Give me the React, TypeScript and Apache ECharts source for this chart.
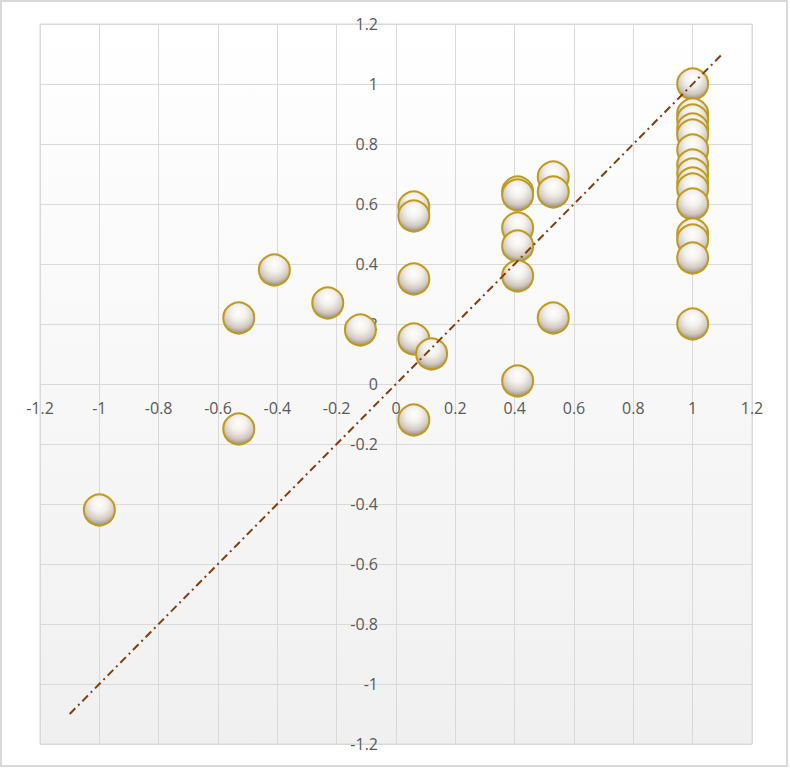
import React, { useEffect, useRef } from "react";
import * as echarts from "echarts";

const xValues = [
  -1.0, -0.53, -0.53, -0.41, -0.23, -0.12,
  0.06, 0.06, 0.06, 0.06, 0.06, 0.12,
  0.41, 0.41, 0.41, 0.41, 0.41, 0.41,
  0.53, 0.53, 0.53,
  1, 1, 1, 1, 1, 1, 1, 1, 1, 1, 1, 1, 1, 1, 1,
];
const yValues = [
  -0.42, 0.22, -0.15, 0.38, 0.27, 0.18,
  0.59, 0.56, 0.35, 0.15, -0.12, 0.1,
  0.64, 0.63, 0.52, 0.46, 0.36, 0.01,
  0.69, 0.64, 0.22,
  1.0, 0.9, 0.88, 0.85, 0.83, 0.78, 0.73, 0.7, 0.67, 0.65, 0.6, 0.5, 0.48, 0.42, 0.2,
];
const trendX = [-1.1, 1.1];
const trendY = [-1.1, 1.1];

export default function App() {
  const ref = useRef<HTMLDivElement>(null);
  useEffect(() => {
    if (!ref.current) return;
    const chart = echarts.init(ref.current, null, { renderer: "svg" });
    const points = xValues.map((x, i) => [x, yValues[i]]);
    const trend = trendX.map((x, i) => [x, trendY[i]]);
    const labelStyle = {
      color: "#595959",
      fontFamily: "Open Sans",
      fontSize: 16,
    };
    const fmt = (v: number) => String(Math.round(v * 10) / 10);
    chart.setOption({
      animation: false,
      backgroundColor: "#ffffff",
      graphic: [
        {
          type: "rect",
          shape: { x: 1, y: 1, width: 786, height: 765 },
          style: { fill: "none", stroke: "#d9d9d9", lineWidth: 2 },
          z: 100,
        },
      ],
      grid: {
        left: 40,
        right: 38,
        top: 24,
        bottom: 24,
        containLabel: false,
        outerBoundsMode: "none",
        show: true,
        borderColor: "#d9d9d9",
        borderWidth: 1,
        backgroundColor: {
          type: "linear",
          x: 0,
          y: 0,
          x2: 0,
          y2: 1,
          colorStops: [
            { offset: 0, color: "#ffffff" },
            { offset: 1, color: "#f0f0f0" },
          ],
        },
      },
      xAxis: {
        type: "value",
        min: -1.2,
        max: 1.2,
        interval: 0.2,
        position: "bottom",
        offset: -360,
        axisLine: { show: true, onZero: false, lineStyle: { color: "#d9d9d9", width: 1 } },
        axisTick: { show: false },
        splitLine: { lineStyle: { color: "#d9d9d9", width: 1 } },
        axisLabel: { ...labelStyle, margin: 16, formatter: fmt },
      },
      yAxis: {
        type: "value",
        min: -1.2,
        max: 1.2,
        interval: 0.2,
        position: "left",
        offset: -356,
        axisLine: { show: true, onZero: false, lineStyle: { color: "#d9d9d9", width: 1 } },
        axisTick: { show: false },
        splitLine: { lineStyle: { color: "#d9d9d9", width: 1 } },
        axisLabel: { ...labelStyle, margin: 18, formatter: fmt },
      },
      series: [
        {
          type: "scatter",
          data: points,
          symbol: "circle",
          symbolSize: 31,
          z: 3,
          itemStyle: {
            color: {
              type: "radial",
              x: 0.5,
              y: 0.32,
              r: 0.72,
              colorStops: [
                { offset: 0, color: "#ffffff" },
                { offset: 0.35, color: "#f3f0ec" },
                { offset: 0.7, color: "#d2cac0" },
                { offset: 1, color: "#8c8276" },
              ],
            },
            borderColor: "#bf9a1d",
            borderWidth: 2,
            opacity: 1,
          },
        },
        {
          type: "line",
          data: trend,
          symbol: "none",
          z: 5,
          lineStyle: {
            color: "#843c0c",
            width: 2,
            type: [8, 4, 2, 4],
          },
        },
      ],
    });
    return () => chart.dispose();
  }, []);
  return (
    <div
      ref={ref}
      style={{ position: "absolute", left: 0, top: 0, width: 790, height: 768 }}
    />
  );
}
